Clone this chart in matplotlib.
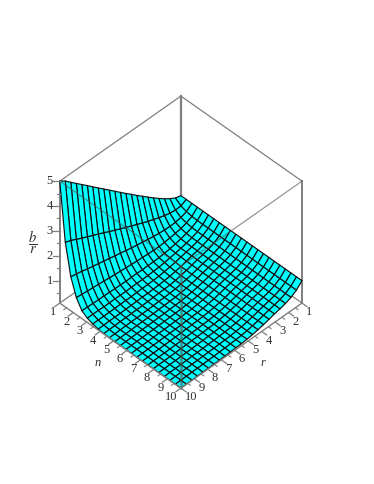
import matplotlib
matplotlib.use("Agg")
import matplotlib.pyplot as plt
import numpy as np
from mpl_toolkits.mplot3d import proj3d

plt.rcParams['font.family'] = ['Liberation Serif', 'DejaVu Sans']
plt.rcParams['mathtext.fontset'] = 'stix'

# mesh positions along each axis
r_vals = [1, 1.41, 1.82, 2.23, 2.64, 3.05, 3.45, 3.86, 4.27, 4.68, 5.09, 5.5, 5.91, 6.32, 6.73, 7.14, 7.55, 7.95, 8.36, 8.77, 9.18, 9.59, 10]
n_vals = [1, 1.41, 1.82, 2.23, 2.64, 3.05, 3.45, 3.86, 4.27, 4.68, 5.09, 5.5, 5.91, 6.32, 6.73, 7.14, 7.55, 7.95, 8.36, 8.77, 9.18, 9.59, 10]

# b/r, one row per n
z_n1 = [1.00, 1.06, 1.19, 1.34, 1.51, 1.69, 1.87, 2.06, 2.25, 2.45, 2.64, 2.84, 3.04, 3.24, 3.44, 3.64, 3.84, 4.04, 4.24, 4.44, 4.64, 4.85, 5.00]
z_n2 = [1.00, .90, .89, .92, .98, 1.05, 1.13, 1.21, 1.30, 1.40, 1.49, 1.59, 1.69, 1.79, 1.89, 2.00, 2.10, 2.20, 2.30, 2.40, 2.51, 2.62, 2.70]
z_n3 = [1.00, .82, .74, .71, .70, .71, .73, .76, .80, .84, .88, .92, .97, 1.02, 1.07, 1.12, 1.17, 1.22, 1.27, 1.32, 1.38, 1.43, 1.47]
z_n4 = [1.00, .79, .68, .61, .57, .54, .52, .51, .51, .52, .54, .55, .57, .59, .61, .63, .65, .68, .70, .72, .74, .77, .79]
z_n5 = [1.00, .78, .65, .57, .51, .46, .42, .39, .37, .36, .36, .35, .36, .36, .36, .37, .37, .38, .39, .39, .40, .41, .42]
z_n6 = [1.00, .78, .64, .55, .49, .44, .40, .36, .33, .30, .29, .27, .27, .27, .27, .26, .26, .27, .26, .26, .27, .27, .27]
z_n7 = [1.00, .78, .64, .55, .49, .44, .39, .34, .30, .27, .24, .23, .22, .22, .21, .20, .20, .20, .19, .19, .19, .19, .19]
z_n8 = [1.00, .78, .64, .55, .49, .44, .38, .32, .28, .24, .22, .20, .19, .18, .18, .17, .16, .16, .15, .15, .15, .14, .14]
z_n9 = [1.00, .78, .64, .55, .49, .44, .38, .32, .27, .23, .20, .19, .18, .17, .16, .15, .14, .14, .13, .13, .12, .12, .115]
z_far = [1.00, .78, .64, .55, .49, .44, .38, .32, .27, .23, .20, .18, .169, .158, .149, .14, .132, .126, .12, .114, .109, .104, .10]
z_rows = [z_n1, z_n2, z_n3, z_n4, z_n5, z_n6, z_n7, z_n8, z_n9] + [z_far] * 14

n_ticks = [1, 2, 3, 4, 5, 6, 7, 8, 9, 10]
r_ticks = [1, 2, 3, 4, 5, 6, 7, 8, 9, 10]
z_ticks = [1, 2, 3, 4, 5]

z_lo = 0.1
z_hi = 5
box_col = '#7f7f7f'
txt_col = '#303030'

fig = plt.figure(figsize=(3.74, 4.84), dpi=100)
ax = fig.add_axes([33 / 374, 94 / 484, 288 / 374, 288 / 484], projection='3d', computed_zorder=False)
ax.set_proj_type('ortho')
ax.view_init(elev=44.6, azim=45)
ax.set_box_aspect((1, 1, 1))
ax.set_xlim(1, 10)
ax.set_ylim(1, 10)
ax.set_zlim(z_lo, z_hi)
ax.set_axis_off()


def line3(xs, ys, zs, color=box_col, lw=0.9, alpha=None, zorder=3):
    ax.plot(xs, ys, zs, color=color, lw=lw, alpha=alpha, zorder=zorder, clip_on=False)


def label3(x, y, z, s, size=9, **kw):
    # plain 2D text placed at the projected spot of a 3D point
    px, py, _ = proj3d.proj_transform(x, y, z, ax.get_proj())
    ax.text2D(px, py, s, transform=ax.transData, color=txt_col, ha='center', va='center', fontsize=size, **kw)


# box edges behind the surface
line3([1, 1], [1, 1], [z_lo, z_hi], lw=1.6, zorder=1)
line3([10, 1, 1], [1, 1, 10], [z_hi, z_hi, z_hi], zorder=1)
line3([10, 1, 1], [1, 1, 10], [z_lo, z_lo, z_lo], zorder=1)
line3([10, 10], [1, 1], [z_lo, z_hi], lw=1.4, zorder=1)
line3([1, 1], [10, 10], [z_lo, z_hi], lw=1.4, zorder=1)

X, Y = np.meshgrid(r_vals, n_vals)
Z = np.array(z_rows)
ax.plot_surface(X, Y, Z, rstride=1, cstride=1, color='#00ffff', edgecolor='#101010',
                linewidth=0.85, shade=False, zorder=2)

# box edges in front, faint over the surface
line3([10, 10, 1], [1, 10, 10], [z_hi, z_hi, z_hi], color='#505050', alpha=0.6)
line3([10, 10], [10, 10], [z_lo, z_hi], color='#505050', lw=1.8, alpha=0.6)
line3([10, 10, 1], [1, 10, 10], [z_lo, z_lo, z_lo], lw=1.0)

# ticks
for t in n_ticks:
    line3([10, 10.37], [t, t], [z_lo, z_lo])
    if t < 10:
        line3([10, 10.2], [t + .5, t + .5], [z_lo, z_lo], lw=0.8)
    if t == 10:
        label3(10.85, t + .1, z_lo, str(t))
    else:
        label3(10.74, t + .22, z_lo, str(t))
for t in r_ticks:
    line3([t, t], [10, 10.37], [z_lo, z_lo])
    if t < 10:
        line3([t + .5, t + .5], [10, 10.2], [z_lo, z_lo], lw=0.8)
    if t == 10:
        label3(t + .1, 10.85, z_lo, str(t))
    else:
        label3(t + .22, 10.74, z_lo, str(t))
for t in z_ticks:
    line3([10, 10.25], [1, .75], [t, t])
    line3([10, 10.12], [1, .88], [t - .5, t - .5], lw=0.8)
    label3(10.37, .63, t, str(t))

label3(11.77, 5.59, z_lo, 'n', style='italic')
label3(5.63, 11.73, z_lo, 'r', style='italic')
label3(11, 0, 2.55, r'$\dfrac{b}{r}$', size=10.5)

fig.savefig('out.png', dpi=100, facecolor='white')
